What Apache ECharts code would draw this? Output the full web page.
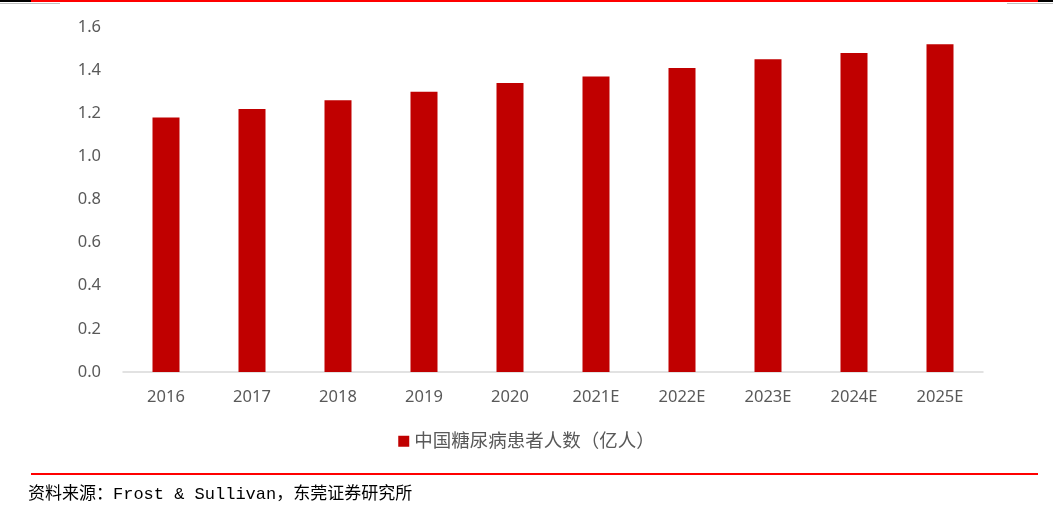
<!DOCTYPE html>
<html><head><meta charset="utf-8">
<script src="https://cdn.jsdelivr.net/npm/echarts@6/dist/echarts.min.js"></script>
<style>html,body{margin:0;padding:0;background:#fff}#c{width:1053px;height:529px}</style>
</head><body><div id="c"></div>
<script>
const categories = ['2016','2017','2018','2019','2020','2021E','2022E','2023E','2024E','2025E'];
const patients = [1.18, 1.22, 1.26, 1.30, 1.34, 1.37, 1.41, 1.45, 1.48, 1.52];
const seriesName = '中国糖尿病患者人数（亿人）';
const sourceText = '资料来源：Frost & Sullivan，东莞证券研究所';

const chart = echarts.init(document.getElementById('c'), null, {renderer: 'canvas'});
const font = '"Noto Sans", "Noto Sans CJK SC", sans-serif';
chart.setOption({
  animation: false,
  grid: {left: 123, right: 70, top: 27, bottom: 157},
  legend: {
    data: [seriesName], top: 427, left: 'center', icon: 'rect',
    itemWidth: 11, itemHeight: 11, itemGap: 6,
    textStyle: {color: '#595959', fontSize: 18.5, fontFamily: font}
  },
  xAxis: {
    type: 'category', data: categories,
    axisLine: {lineStyle: {color: '#d9d9d9', width: 1.5}},
    axisTick: {show: false},
    axisLabel: {color: '#595959', fontSize: 16.5, margin: 17, fontFamily: font}
  },
  yAxis: {
    type: 'value', min: 0, max: 1.6, interval: 0.2,
    splitLine: {show: false},
    axisLine: {show: false}, axisTick: {show: false},
    axisLabel: {color: '#595959', fontSize: 16.5, margin: 22, fontFamily: font,
      formatter: v => v.toFixed(1)}
  },
  series: [{
    name: seriesName, type: 'bar', data: patients, barWidth: 27,
    itemStyle: {color: '#c00000'}
  }],
  graphic: [
    {type: 'rect', shape: {x: 0, y: 0, width: 1053, height: 2}, style: {fill: '#000'}},
    {type: 'rect', shape: {x: 31, y: 0, width: 1007, height: 2}, style: {fill: '#ff0000'}},
    {type: 'rect', shape: {x: 0, y: 3, width: 60, height: 1}, style: {fill: '#bfbfbf'}},
    {type: 'rect', shape: {x: 1007, y: 3, width: 46, height: 1}, style: {fill: '#bfbfbf'}},
    {type: 'rect', shape: {x: 31, y: 473, width: 1007, height: 2}, style: {fill: '#ff0000'}},
    {type: 'text', left: 28, top: 486, style: {
      text: sourceText, fill: '#000', fontSize: 17,
      fontFamily: '"Liberation Mono", "Noto Sans CJK SC", monospace'
    }}
  ]
});
</script></body></html>
